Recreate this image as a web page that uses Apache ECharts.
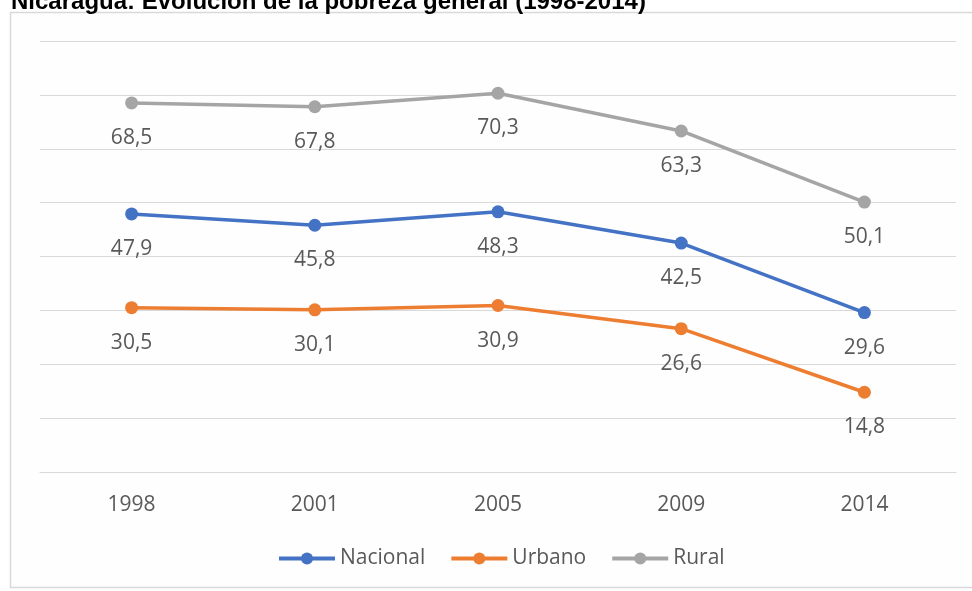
<!DOCTYPE html>
<html>
<head>
<meta charset="utf-8">
<script src="https://cdn.jsdelivr.net/npm/echarts@6/dist/echarts.min.js"></script>
<style>
  html, body { margin: 0; padding: 0; background: #fff; }
  #chart { width: 972px; height: 591px; }
</style>
</head>
<body>
<div id="chart"></div>
<script>
const years = ['1998', '2001', '2005', '2009', '2014']
const nacional = [47.9, 45.8, 48.3, 42.5, 29.6]
const urbano = [30.5, 30.1, 30.9, 26.6, 14.8]
const rural = [68.5, 67.8, 70.3, 63.3, 50.1]

const FONT = '"Open Sans", sans-serif'
const TEXT_COLOR = '#595959'

function lineSeries (name, data, color) {
  return {
    name,
    type: 'line',
    data,
    symbol: 'circle',
    symbolSize: 13,
    lineStyle: { width: 3.5, color },
    itemStyle: { color },
    label: {
      show: true,
      position: 'bottom',
      distance: 18,
      fontFamily: FONT,
      fontSize: 21,
      color: TEXT_COLOR,
      formatter: p => String(p.value).replace('.', ',')
    },
    animation: false
  }
}

const chart = echarts.init(document.getElementById('chart'))
chart.setOption({
  backgroundColor: '#fff',
  title: {
    text: 'Nicaragua: Evolución de la pobreza general (1998-2014)',
    left: 6,
    top: -15,
    textStyle: { fontFamily: '"Liberation Sans", Arial, sans-serif', fontWeight: 'bold', fontSize: 24, color: '#000' }
  },
  graphic: [{
    type: 'rect',
    z: -10,
    shape: { x: 10.5, y: 12.5, width: 980, height: 575 },
    style: { fill: '#fefefe', stroke: '#d9d9d9', lineWidth: 1.5 }
  }],
  grid: { left: 40, right: 16, top: 41, bottom: 119 },
  legend: {
    left: 272,
    top: 543,
    itemWidth: 56,
    itemHeight: 15,
    itemGap: 24,
    lineStyle: { width: 4 },
    textStyle: { fontFamily: FONT, fontSize: 21, color: TEXT_COLOR },
    data: ['Nacional', 'Urbano', 'Rural']
  },
  xAxis: {
    type: 'category',
    data: years,
    axisLine: { show: true, lineStyle: { color: '#d9d9d9', width: 1 } },
    axisTick: { show: false },
    axisLabel: { margin: 23, fontFamily: FONT, fontSize: 21, color: TEXT_COLOR }
  },
  yAxis: {
    type: 'value',
    min: 0,
    max: 80,
    interval: 10,
    axisLabel: { show: false },
    axisLine: { show: false },
    axisTick: { show: false },
    splitLine: { lineStyle: { color: '#d9d9d9', width: 1 } }
  },
  series: [
    lineSeries('Nacional', nacional, '#4472c4'),
    lineSeries('Urbano', urbano, '#ed7d31'),
    lineSeries('Rural', rural, '#a5a5a5')
  ]
})
</script>
</body>
</html>
